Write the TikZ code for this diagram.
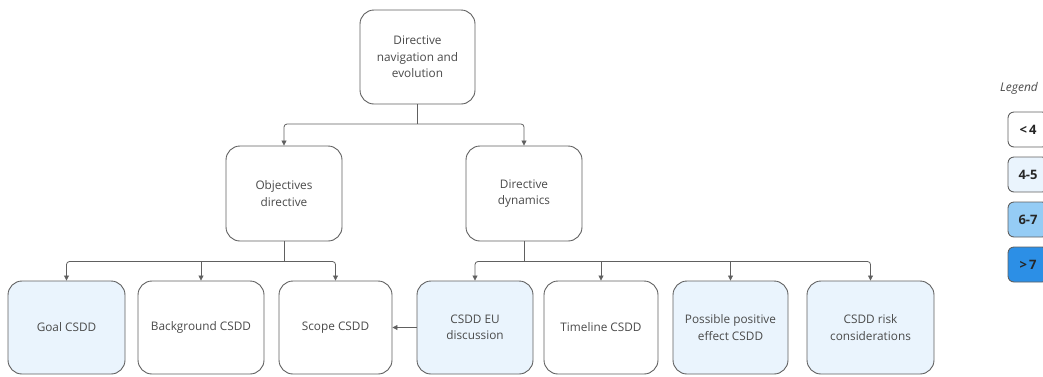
\documentclass[tikz,border=0pt]{standalone}
\usepackage{fontspec}
\setmainfont{Open Sans}
\usetikzlibrary{arrows.meta}
\definecolor{edgegray}{HTML}{606060}
\definecolor{txtgray}{HTML}{4A4A4A}
\definecolor{tierb}{HTML}{EAF4FD}
\definecolor{tierc}{HTML}{95CCF5}
\definecolor{tierd}{HTML}{2C8FE6}
\begin{document}
\begin{tikzpicture}[x=1pt,y=-1pt,
  box/.style={draw=edgegray, line width=0.9pt, rounded corners=14pt, fill=white,
    align=center, text=txtgray, inner sep=2pt,
    font=\fontsize{11.8}{16.5}\selectfont},
  toprow/.style={box, minimum width=116pt, minimum height=95pt},
  leaf/.style={box, minimum height=93pt},
  hi/.style={fill=tierb},
  conn/.style={draw=edgegray, line width=0.8pt},
  arr/.style={conn, -{Triangle[length=5pt,width=5pt]}},
  biarr/.style={conn, {Triangle[length=5pt,width=5pt]}-{Triangle[length=5pt,width=5pt]}, rounded corners=3pt},
  legbox/.style={draw=edgegray, line width=0.9pt, rounded corners=6pt,
    minimum width=40pt, minimum height=35pt, text=black!85,
    font=\fontsize{13}{15}\bfseries\selectfont}
]
\useasboundingbox (0,0) rectangle (1043,376);

% hierarchy
\node[toprow, minimum width=115pt, minimum height=94pt] (root) at (417.5,57) {Directive\\navigation and\\evolution};
\node[toprow] (obj) at (284,193.5) {Objectives\\directive};
\node[toprow] (dyn) at (524,193.5) {Directive\\dynamics};

\node[leaf, hi, minimum width=117pt] (goal) at (66.5,327.5) {Goal CSDD};
\node[leaf, minimum width=126pt] (bg) at (201,327.5) {Background CSDD};
\node[leaf, minimum width=113pt] (scope) at (335.5,327.5) {Scope CSDD};
\node[leaf, hi, minimum width=116pt] (eu) at (475,327.5) {CSDD EU\\discussion};
\node[leaf, minimum width=114pt] (time) at (601,327.5) {Timeline CSDD};
\node[leaf, hi, minimum width=115pt] (pos) at (730.5,327.5) {Possible positive\\effect CSDD};
\node[leaf, hi, minimum width=127pt] (risk) at (870.5,327.5) {CSDD risk\\considerations};

% bus levels
\coordinate (bus1) at (0,124);
\coordinate (bus2) at (0,261.5);

% root to second level
\draw[conn] (root.south) -- (root.south |- bus1);
\draw[biarr] (obj.north) -- (obj.north |- bus1) -- (dyn.north |- bus1) -- (dyn.north);

% objectives branch
\draw[conn] (obj.south) -- (obj.south |- bus2);
\draw[biarr] (goal.north) -- (goal.north |- bus2) -- (scope.north |- bus2) -- (scope.north);
\draw[arr] (bg.north |- bus2) -- (bg.north);

% dynamics branch
\draw[conn] (dyn.south) -- (dyn.south |- bus2);
\draw[biarr] (eu.north) -- (eu.north |- bus2) -- (risk.north |- bus2) -- (risk.north);
\draw[arr] (time.north |- bus2) -- (time.north);
\draw[arr] (pos.north |- bus2) -- (pos.north);

% cross link
\draw[arr] (eu.west) -- (scope.east);

% legend
\node[font=\fontsize{12}{14}\itshape\selectfont, text=txtgray] (legtitle) at (1019,88) {Legend};
\node[legbox, fill=white] (l1) at (1028,129.5) {<\,4};
\node[legbox, fill=tierb] (l2) at (1028,174.5) {4-5};
\node[legbox, fill=tierc] (l3) at (1028,219.5) {6-7};
\node[legbox, fill=tierd] (l4) at (1028,264.5) {>\,7};
\end{tikzpicture}
\end{document}
